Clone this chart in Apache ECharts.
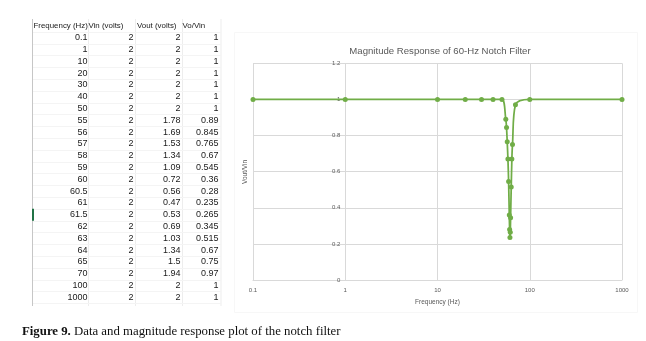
<!DOCTYPE html>
<html>
<head>
<meta charset="utf-8">
<script src="https://cdn.jsdelivr.net/npm/echarts@6/dist/echarts.min.js"></script>
<style>
  html, body { margin: 0; padding: 0; background: #ffffff; }
  #chart { width: 646px; height: 341px; }
</style>
</head>
<body>
<div id="chart"></div>
<script>
// Measured notch-filter response
const freqLabels = ['0.1','1','10','20','30','40','50','55','56','57','58','59','60','60.5','61','61.5','62','63','64','65','70','100','1000'];
const frequency  = [0.1, 1, 10, 20, 30, 40, 50, 55, 56, 57, 58, 59, 60, 60.5, 61, 61.5, 62, 63, 64, 65, 70, 100, 1000];
const vin        = [2, 2, 2, 2, 2, 2, 2, 2, 2, 2, 2, 2, 2, 2, 2, 2, 2, 2, 2, 2, 2, 2, 2];
const voutLabels = ['2','2','2','2','2','2','2','1.78','1.69','1.53','1.34','1.09','0.72','0.56','0.47','0.53','0.69','1.03','1.34','1.5','1.94','2','2'];
const ratio      = [1, 1, 1, 1, 1, 1, 1, 0.89, 0.845, 0.765, 0.67, 0.545, 0.36, 0.28, 0.235, 0.265, 0.345, 0.515, 0.67, 0.75, 0.97, 1, 1];
const headers    = ['Frequency (Hz)', 'Vin (volts)', 'Vout (volts)', 'Vo/Vin'];

const chart = echarts.init(document.getElementById('chart'), null, { renderer: 'canvas' });

// spreadsheet-style data table on the left
const headerFont = '7.9px "Liberation Sans", Arial, sans-serif';
const cellFont = '9px "Liberation Sans", Arial, sans-serif';
const rowTop = 37.7, rowStep = 11.8, headerY = 25.7;
const colRight = [87.5, 133.5, 180.5, 218.5];
const headerLeft = [33.5, 88.5, 137, 182.5];
const gridX = [88, 135, 182, 220.5];
const tableEls = [];

tableEls.push({ type: 'line', shape: { x1: 32.5, y1: 19, x2: 32.5, y2: 306 }, style: { stroke: '#c6c6c6', lineWidth: 1 } });
gridX.forEach(x => tableEls.push({ type: 'line', shape: { x1: x + 0.5, y1: 19, x2: x + 0.5, y2: 306 }, style: { stroke: '#ededed', lineWidth: 1 } }));
for (let i = 0; i <= freqLabels.length; i++) {
  const y = Math.round(rowTop - rowStep / 2 + i * rowStep) + 0.5;
  tableEls.push({ type: 'line', shape: { x1: 33, y1: y, x2: 221, y2: y }, style: { stroke: '#f4f4f4', lineWidth: 1 } });
}
// active-row marker
tableEls.push({ type: 'rect', shape: { x: 32, y: rowTop + 15 * rowStep - 6, width: 2, height: 12 }, style: { fill: '#217346' } });

headers.forEach((h, i) => tableEls.push({
  type: 'text', x: headerLeft[i], y: headerY,
  style: { text: h, font: headerFont, fill: '#1a1a1a', textAlign: 'left', textVerticalAlign: 'middle' }
}));
freqLabels.forEach((f, r) => {
  const cells = [f, String(vin[r]), voutLabels[r], String(ratio[r])];
  cells.forEach((c, i) => tableEls.push({
    type: 'text', x: colRight[i], y: rowTop + r * rowStep,
    style: { text: c, font: cellFont, fill: '#1a1a1a', textAlign: 'right', textVerticalAlign: 'middle' }
  }));
});

const gridLeft = 253, gridRight = 622, gridTop = 63.3, gridBottom = 280;
const decade = (gridRight - gridLeft) / 4;

const option = {
  animation: false,
  backgroundColor: '#ffffff',
  title: {
    text: 'Magnitude Response of 60-Hz Notch Filter',
    left: 435, top: 41, textAlign: 'center',
    textStyle: { fontFamily: '"Liberation Sans", Arial, sans-serif', fontSize: 9.6, fontWeight: 'normal', color: '#595959' }
  },
  grid: { left: gridLeft, top: gridTop, width: gridRight - gridLeft, height: gridBottom - gridTop, containLabel: false },
  xAxis: {
    type: 'log', logBase: 10, min: 0.1, max: 1000, splitNumber: 4,
    name: 'Frequency (Hz)', nameLocation: 'middle', nameGap: 19,
    nameTextStyle: { fontFamily: '"Liberation Sans", Arial, sans-serif', fontSize: 6.5, color: '#595959' },
    axisLine: { show: true, lineStyle: { color: '#d9d9d9', width: 1 } },
    axisTick: { show: false },
    axisLabel: {
      margin: 7, fontFamily: '"Liberation Sans", Arial, sans-serif', fontSize: 6, color: '#595959',
      formatter: v => String(+(+v).toPrecision(6))
    },
    splitLine: { show: true, lineStyle: { color: '#d9d9d9', width: 1 } }
  },
  yAxis: {
    type: 'value', min: 0, max: 1.2, interval: 0.2,
    offset: -decade,
    axisLine: { show: false },
    axisTick: { show: false },
    axisLabel: {
      margin: 5, fontFamily: '"Liberation Sans", Arial, sans-serif', fontSize: 6, color: '#595959',
      formatter: v => String(+(+v).toFixed(1))
    },
    splitLine: { show: true, lineStyle: { color: '#d9d9d9', width: 1 } }
  },
  series: [{
    type: 'line',
    data: frequency.map((f, i) => [f, ratio[i]]),
    smooth: 0.35,
    symbol: 'circle', symbolSize: 5,
    lineStyle: { color: '#70ad47', width: 1.75 },
    itemStyle: { color: '#70ad47' }
  }],
  graphic: [
    { type: 'rect', shape: { x: 234.5, y: 32.5, width: 403, height: 280 }, style: { fill: 'none', stroke: '#f7f7f7', lineWidth: 1 }, z: -1 },
    {
      type: 'text', x: 245.5, y: 172, rotation: Math.PI / 2,
      style: { text: 'Vout/Vin', font: '6.5px "Liberation Sans", Arial, sans-serif', fill: '#595959', textAlign: 'center', textVerticalAlign: 'middle' }
    },
    { type: 'group', children: tableEls },
    {
      type: 'text', x: 22, y: 331.5,
      style: {
        text: '{b|Figure 9.} Data and magnitude response plot of the notch filter',
        font: '12.8px "Liberation Serif", "Times New Roman", serif', fill: '#111', textVerticalAlign: 'middle',
        rich: { b: { font: 'bold 12.8px "Liberation Serif", "Times New Roman", serif', fill: '#111' } }
      }
    }
  ]
};
chart.setOption(option);
</script>
</body>
</html>
